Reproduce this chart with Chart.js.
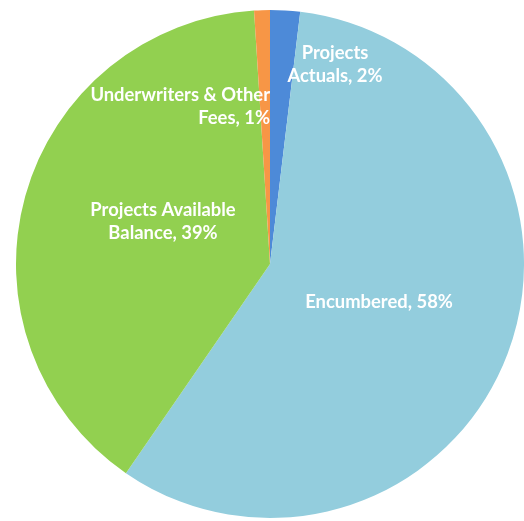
<!DOCTYPE html>
<html>
<head>
<meta charset="utf-8">
<script src="https://cdn.jsdelivr.net/npm/chart.js@4.4.1/dist/chart.umd.min.js"></script>
<style>
  html, body { margin: 0; padding: 0; background: #ffffff; }
  #wrap { width: 524px; height: 521px; position: relative; }
</style>
</head>
<body>
<div id="wrap"><canvas id="c" width="524" height="521"></canvas></div>
<script>
// ---- Data ----
const categories = ["Projects Actuals", "Encumbered", "Projects Available Balance", "Underwriters & Other Fees"];
const values = [1.9, 57.7, 39.4, 1.0];
const percentLabels = ["2%", "58%", "39%", "1%"];
const labelLines = [
  ["Projects", "Actuals, 2%"],
  ["Encumbered, 58%"],
  ["Projects Available", "Balance, 39%"],
  ["Underwriters & Other", "Fees, 1%"]
];
const colors = ["#4d8ad8", "#93cddd", "#92d050", "#f79646"];

// label placement (polar, relative to the pie centre: angle in degrees clockwise from top, fraction of radius)
const labelPlacement = [
  { angle: 18.0,  frac: 0.828, align: "center" },
  { angle: 109.0, frac: 0.454, align: "center" },
  { angle: 291.9, frac: 0.454, align: "center" },
  { angle: 0.0,   frac: 0.622, align: "right" }
];

const FONT_SIZE = 18.4;
const LINE_H = 23;
const CAP = 0.7165 * FONT_SIZE;

const labelPlugin = {
  id: "sliceLabels",
  afterDatasetsDraw(chart) {
    const ctx = chart.ctx;
    const meta = chart.getDatasetMeta(0);
    ctx.save();
    ctx.fillStyle = "#ffffff";
    ctx.font = "bold " + FONT_SIZE + "px Lato, 'Open Sans', sans-serif";
    ctx.textBaseline = "alphabetic";
    meta.data.forEach((arc, i) => {
      const p = labelPlacement[i];
      const a = p.angle * Math.PI / 180;
      const cx = arc.x + Math.sin(a) * arc.outerRadius * p.frac;
      const cy = arc.y - Math.cos(a) * arc.outerRadius * p.frac;
      const lines = labelLines[i];
      const n = lines.length;
      ctx.textAlign = p.align;
      lines.forEach((t, k) => {
        const capCenter = cy + (k - (n - 1) / 2) * LINE_H;
        ctx.fillText(t, cx, capCenter + CAP / 2);
      });
    });
    ctx.restore();
  }
};

new Chart(document.getElementById("c"), {
  type: "pie",
  data: {
    labels: categories,
    datasets: [{
      data: values,
      backgroundColor: colors,
      borderWidth: 0
    }]
  },
  options: {
    responsive: false,
    animation: false,
    layout: { padding: { left: 16, right: 0, top: 10, bottom: 3 } },
    plugins: {
      legend: { display: false },
      tooltip: { enabled: false }
    }
  },
  plugins: [labelPlugin]
});
</script>
</body>
</html>
